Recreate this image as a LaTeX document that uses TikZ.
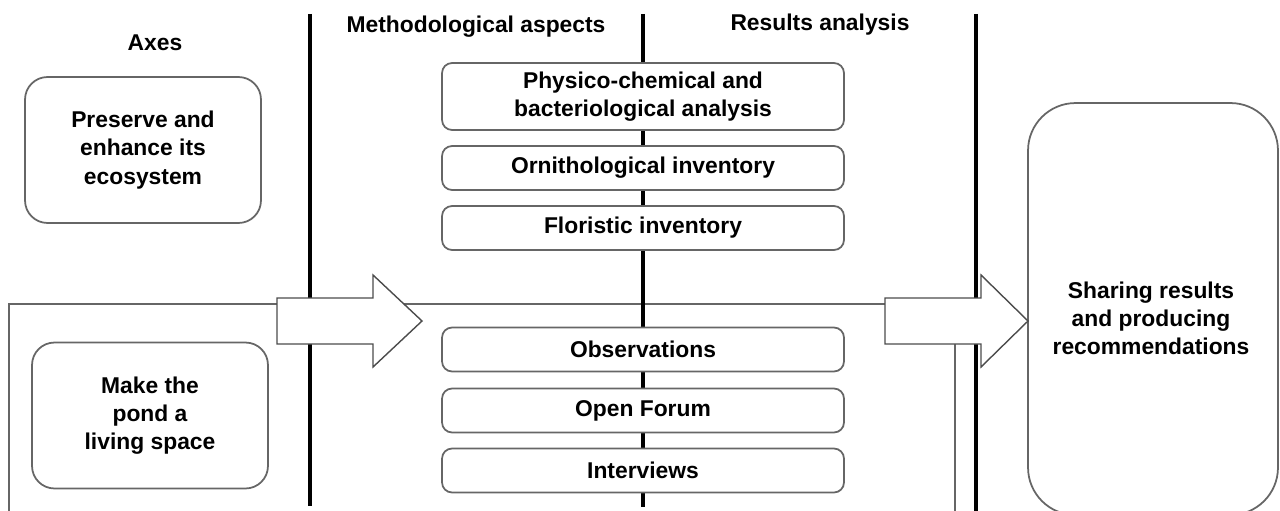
\documentclass[tikz,border=0pt]{standalone}
\usepackage{fontspec}
\setmainfont{Liberation Sans}
\usepackage{tikz}

\tikzset{
  divider/.style={line width=2.3pt, black},
  frameline/.style={line width=1pt, black!60},
  labeltext/.style={font=\fontsize{13}{16}\selectfont\bfseries, align=center},
  axisbox/.style={labeltext, draw=black!60, line width=1pt, fill=white, rounded corners=0.45cm, minimum width=4.72cm, minimum height=2.92cm},
  methodbox/.style={labeltext, draw=black!60, line width=1pt, fill=white, rounded corners=0.2cm, minimum width=8.04cm, minimum height=0.88cm},
  sharebox/.style={draw=black!60, line width=1pt, fill=white, rounded corners=0.95cm, minimum width=5cm, minimum height=8.24cm},
  blockarrow/.style={draw=black!70, line width=0.8pt, fill=white},
}

\begin{document}
\begin{tikzpicture}[x=0.02cm, y=-0.02cm]
  \useasboundingbox (0,0) rectangle (1280,510);
  \draw[frameline] (9,515) -- (9,304) -- (955,304) -- (955,515);
  \draw[divider] (310,14) -- (310,506) (643,14) -- (643,507) (976,14) -- (976,512);

  \node[labeltext] (axes) at (155,43) {Axes};
  \node[labeltext] (method) at (476,27) {Methodological aspects};
  \node[labeltext] (results) at (820,25) {Results analysis};

  \node[axisbox] (preserve) at (143,150) {Preserve and\\enhance its\\ecosystem};
  \node[axisbox] (living) at (150,415.5) {Make the\\pond a\\living space};

  \node[methodbox, minimum height=1.34cm] (physico) at (643,96.5) {Physico-chemical and\\bacteriological analysis};
  \node[methodbox] (ornitho) at (643,168) {Ornithological inventory};
  \node[methodbox] (floristic) at (643,228) {Floristic inventory};
  \node[methodbox] (observ) at (643,349.5) {Observations};
  \node[methodbox] (forum) at (643,410.5) {Open Forum};
  \node[methodbox] (interv) at (643,470.5) {Interviews};

  \node[sharebox] (share) at (1153,309) {};
  \node[labeltext] (sharetext) at (1151,318) {Sharing results\\and producing\\recommendations};

  \draw[blockarrow] (277,298) -- (373,298) -- (373,275) -- (422,321) -- (373,367) -- (373,344) -- (277,344) -- cycle;
  \draw[blockarrow] (885,298) -- (981,298) -- (981,275) -- (1028,321) -- (981,367) -- (981,344) -- (885,344) -- cycle;
\end{tikzpicture}
\end{document}
